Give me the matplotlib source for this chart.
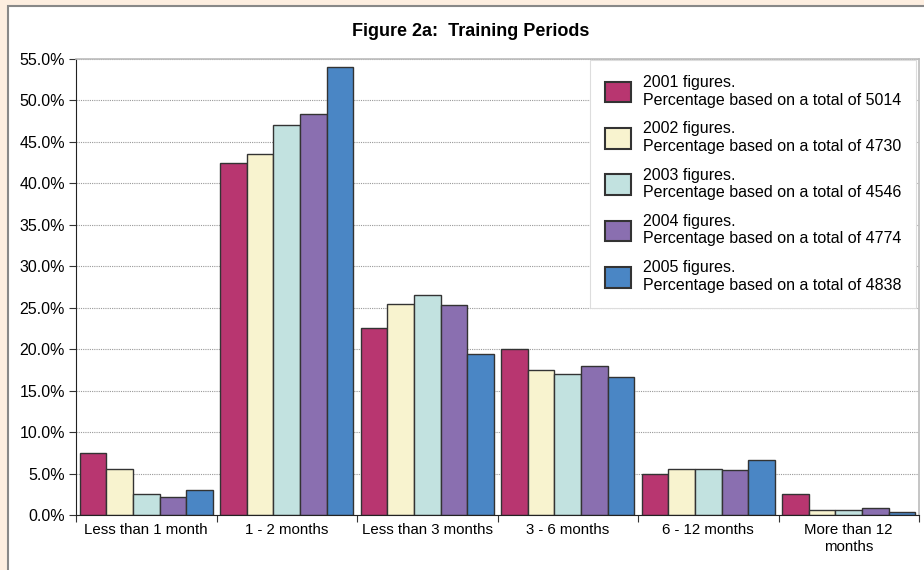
import numpy as np
import matplotlib.pyplot as plt
from matplotlib.patches import Rectangle

categories = ['Less than 1 month', '1 - 2 months', 'Less than 3 months',
              '3 - 6 months', '6 - 12 months', 'More than 12\nmonths']
years = ['2001', '2002', '2003', '2004', '2005']
totals = [5014, 4730, 4546, 4774, 4838]
v2001 = [7.5, 42.5, 22.5, 20.0, 5.0, 2.5]
v2002 = [5.5, 43.5, 25.5, 17.5, 5.5, 0.6]
v2003 = [2.5, 47.0, 26.5, 17.0, 5.5, 0.6]
v2004 = [2.2, 48.4, 25.3, 18.0, 5.4, 0.8]
v2005 = [3.0, 54.0, 19.4, 16.6, 6.6, 0.35]
colors = ['#b83670', '#f8f3cf', '#c2e2e0', '#8a6fb0', '#4a86c5']

plt.rcParams['font.family'] = ['Liberation Sans', 'DejaVu Sans']

fig = plt.figure(figsize=(9.24, 5.70), dpi=100)
fig.patch.set_facecolor('#fdeee0')
fig.patches.append(Rectangle((8 / 924, -0.01), 1.0, 1 - 6 / 570 + 0.01,
                             transform=fig.transFigure, facecolor='white',
                             edgecolor='#888888', linewidth=1.5, zorder=-10))

ax = fig.add_axes([76 / 924, 1 - 515 / 570, (919 - 76) / 924, (515 - 59) / 570])
x = np.arange(len(categories))
w = 0.19
series = [v2001, v2002, v2003, v2004, v2005]
for i, vals in enumerate(series):
    ax.bar(x + (i - 2) * w, vals, width=w, color=colors[i], edgecolor='#333333',
           linewidth=1.0, zorder=2,
           label=f'{years[i]} figures.\nPercentage based on a total of {totals[i]}')

ax.set_xlim(-0.5, 5.5)
ax.set_ylim(0, 55)
ax.set_yticks(np.arange(0, 56, 5))
ax.set_yticklabels([f'{v:.1f}%' for v in np.arange(0, 56, 5)], fontsize=11.5)
ax.set_xticks(np.arange(-0.5, 6, 1))
ax.set_xticklabels([])
ax.set_xticks(x, minor=True)
ax.set_xticklabels(categories, minor=True, fontsize=10.8)
ax.tick_params(axis='x', which='major', direction='out', length=5, color='#333333')
ax.tick_params(axis='x', which='minor', length=0, pad=6)
ax.tick_params(axis='y', direction='out', length=5, color='#333333', pad=3)
ax.grid(axis='y', color='#999999', linestyle=(0, (1, 1)), linewidth=0.8)
ax.set_axisbelow(True)
for s in ['top', 'right']:
    ax.spines[s].set_color('#bbbbbb')
    ax.spines[s].set_linewidth(1.2)
for s in ['left', 'bottom']:
    ax.spines[s].set_color('#222222')

fig.text(471 / 924, 1 - 32 / 570, 'Figure 2a:  Training Periods', ha='center',
         va='center', fontsize=13, fontweight='bold')

leg = ax.legend(loc='upper left', bbox_to_anchor=(590 / 924, 1 - 60 / 570),
                bbox_transform=fig.transFigure, fontsize=11.5, frameon=True,
                fancybox=False, edgecolor='#dddddd', framealpha=1,
                handlelength=1.6, handleheight=1.6, handletextpad=0.75,
                labelspacing=0.87, borderpad=0.95, borderaxespad=0)
leg.get_frame().set_linewidth(0.8)
for t in leg.get_texts():
    t.set_linespacing(1.2)
for h in leg.legend_handles:
    h.set_linewidth(1.5)

fig.savefig('out.png', dpi=100, facecolor=fig.get_facecolor())
